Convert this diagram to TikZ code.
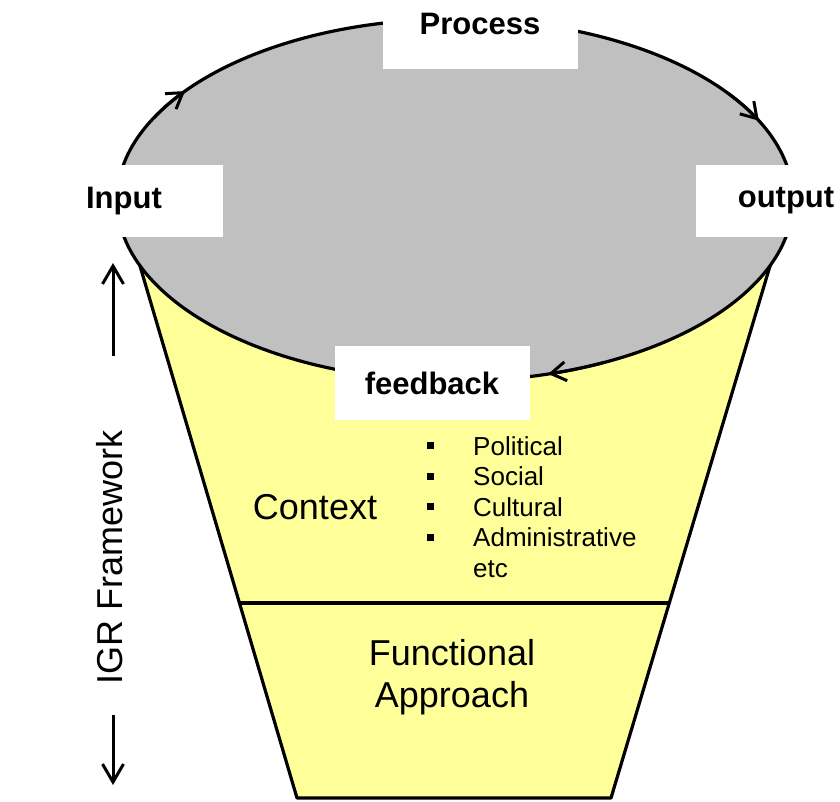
\documentclass[tikz,border=0pt]{standalone}
\usepackage{fontspec}
\setmainfont{Liberation Sans}
\usetikzlibrary{arrows.meta}
\definecolor{loopGray}{HTML}{C0C0C0}
\definecolor{funnelYellow}{HTML}{FFFF99}

\begin{document}
\begin{tikzpicture}
		[x=1pt,y=-1pt,
		lineDecorate/.style={line width=3.2pt,line join=round},
		tipDecorate/.style={-{Straight Barb[length=18pt,width=21pt]},line width=3pt},
		loopTipDecorate/.style={-{Straight Barb[length=15pt,width=19pt]},line width=3pt},
		boxDecorate/.style={fill=white,inner sep=0pt,font=\fontsize{31}{36}\selectfont\bfseries},
		bigDecorate/.style={font=\fontsize{36}{42}\selectfont,inner sep=0pt},
		itemDecorate/.style={font=\fontsize{26}{30}\selectfont,inner sep=0pt,anchor=base west},
		dotDecorate/.style={fill=black,inner sep=0pt,minimum size=7pt}]
		\useasboundingbox (0,0) rectangle (840,801);
		%% funnel
		\coordinate (C) at (455,200);
		\draw[lineDecorate,fill=funnelYellow] (140,266) -- (770,266) -- (611,798) -- (297,798) -- cycle;
		\draw[lineDecorate] (239,603) -- (669,603);
		%% loop
		\draw[lineDecorate,fill=loopGray] (C) ellipse[x radius=338,y radius=181];
		\foreach \from/\to in {207/217, 324/334, 64/74}
		{
			\draw[loopTipDecorate] (C) ++(\from:338 and 181) arc[start angle=\from,end angle=\to,x radius=338,y radius=181];
		}
		%% labels on the loop
		\node[boxDecorate,minimum width=195,minimum height=90] (process) at (480,24) {Process};
		\node[boxDecorate,minimum width=197,minimum height=72] (input) at (124,201) {Input};
		\node[boxDecorate,minimum width=181,minimum height=72] (output) at (786,201) {output};
		\node[boxDecorate,minimum width=195,minimum height=74] (feedback) at (432,383) {feedback};
		%% funnel text
		\node[bigDecorate,anchor=base] (context) at (315,519) {Context};
		\foreach \itemname/\word/\y in {political/Political/455, social/Social/485.5, cultural/Cultural/516, admin/Administrative/546.5}
		{
			\node[dotDecorate] (\itemname Dot) at (430,\y-9.5) {};
			\node[itemDecorate] (\itemname) at (473,\y) {\word};
		}
		\node[itemDecorate] (etc) at (473,577) {etc};
		\node[bigDecorate,align=center] (functional) at (452,677) {Functional\\Approach};
		%% side arrow
		\node[bigDecorate,rotate=90] (igr) at (110,557) {IGR Framework};
		\coordinate (upTail) at (113,356);
		\coordinate (upTip) at (113,263);
		\coordinate (downTail) at (113,715);
		\coordinate (downTip) at (113,785);
		\draw[tipDecorate] (upTail) -- (upTip);
		\draw[tipDecorate] (downTail) -- (downTip);
	\end{tikzpicture}
\end{document}
